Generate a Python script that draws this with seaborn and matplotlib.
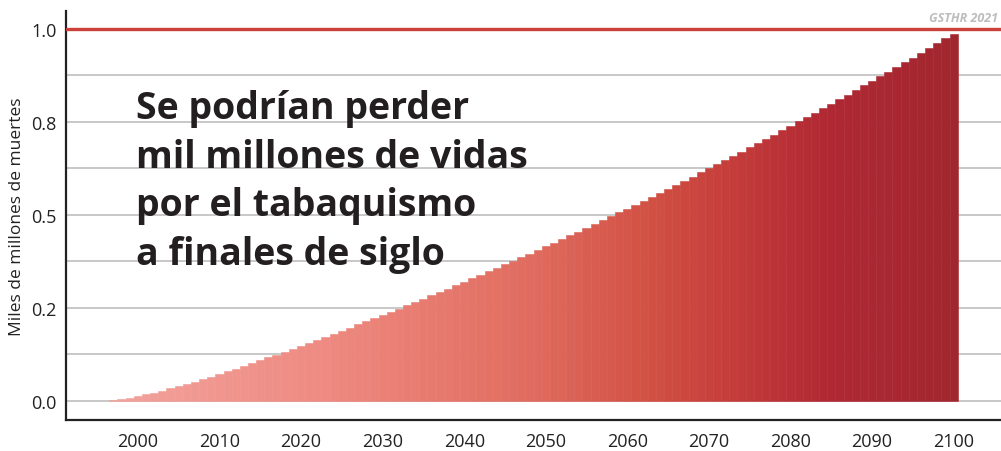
import numpy as np
import pandas as pd
import matplotlib
matplotlib.use("Agg")
import matplotlib.pyplot as plt
import seaborn as sns
from matplotlib.colors import LinearSegmentedColormap
from matplotlib.ticker import FixedLocator

years = list(range(1997, 2101))
deaths = [
    0.003, 0.006, 0.009, 0.013, 0.019, 0.021, 0.027, 0.036, 0.040, 0.046,
    0.051, 0.059, 0.064, 0.072, 0.081, 0.086, 0.094, 0.102, 0.110, 0.118,
    0.124, 0.132, 0.140, 0.148, 0.156, 0.164, 0.172, 0.180, 0.188, 0.196,
    0.207, 0.215, 0.223, 0.231, 0.239, 0.247, 0.258, 0.266, 0.274, 0.285,
    0.293, 0.301, 0.312, 0.320, 0.331, 0.339, 0.349, 0.358, 0.368, 0.376,
    0.387, 0.395, 0.406, 0.417, 0.425, 0.435, 0.446, 0.454, 0.465, 0.476,
    0.487, 0.497, 0.508, 0.516, 0.527, 0.538, 0.548, 0.559, 0.570, 0.581,
    0.591, 0.602, 0.616, 0.626, 0.637, 0.648, 0.659, 0.669, 0.683, 0.694,
    0.704, 0.715, 0.728, 0.739, 0.753, 0.763, 0.774, 0.788, 0.798, 0.812,
    0.823, 0.836, 0.849, 0.860, 0.874, 0.884, 0.898, 0.911, 0.922, 0.935,
    0.949, 0.962, 0.976, 0.987,
]
y_ticks = [0.0, 0.25, 0.5, 0.75, 1.0]
y_tick_labels = ["0.0", "0.2", "0.5", "0.8", "1.0"]
x_ticks = list(range(2000, 2101, 10))
title_text = "Se podrían perder\nmil millones de vidas\npor el tabaquismo\na finales de siglo"
y_label = "Miles de millones de muertes"
source_text = "GSTHR 2021"

df = pd.DataFrame({"year": years, "deaths": deaths})

sns.set_theme(style="white")
plt.rcParams["font.family"] = ["Open Sans", "DejaVu Sans"]

cmap = LinearSegmentedColormap.from_list(
    "smoke",
    [(0.0, "#f2a29c"), (0.25, "#ee8a81"), (0.5, "#e06b5e"), (0.65, "#d04e42"),
     (0.75, "#c23a39"), (0.85, "#b02833"), (1.0, "#a1272f")],
)
norm_vals = [(y - years[0]) / (years[-1] - years[0]) for y in years]
palette = {y: cmap(v) for y, v in zip(years, norm_vals)}

fig = plt.figure(figsize=(10.01, 4.52), dpi=100)
ax = fig.add_axes([0.066, 0.0686, 0.934, 0.9049])

sns.barplot(data=df, x="year", y="deaths", hue="year", palette=palette,
            native_scale=True, width=1.0, legend=False, ax=ax, linewidth=0,
            saturation=1)
for p in ax.patches:
    p.set_edgecolor(p.get_facecolor())
    p.set_linewidth(0.4)
    p.set_zorder(2)

ax.set_xlim(1991.2, 2105.8)
ax.set_ylim(-0.051, 1.048)

for g in np.arange(0, 1.0, 0.125):
    ax.axhline(g, color="#c8c8c8", lw=1.4, zorder=1)
ax.axhline(1.0, color="#cc403a", lw=2.4, zorder=3)

ax.yaxis.set_major_locator(FixedLocator(y_ticks))
ax.set_yticklabels(y_tick_labels)
ax.xaxis.set_major_locator(FixedLocator(x_ticks))
ax.set_xticklabels([str(x) for x in x_ticks])
ax.tick_params(axis="both", which="major", length=5, width=1.2, color="#222222",
               labelsize=13, labelcolor="#222222", direction="out")
ax.tick_params(axis="y", pad=2)
ax.tick_params(axis="x", pad=4)
ax.set_xlabel("")
ax.set_ylabel(y_label, fontsize=12.5, color="#222222", labelpad=4)

for s in ["top", "right"]:
    ax.spines[s].set_visible(False)
for s in ["left", "bottom"]:
    ax.spines[s].set_color("#222222")
    ax.spines[s].set_linewidth(1.6)

fig.text(136 / 1001, 1 - 90 / 452, title_text, fontsize=27, fontweight="bold",
         color="#231f20", ha="left", va="top", linespacing=1.37)
fig.text(998 / 1001, 1 - 18 / 452, source_text, fontsize=9, fontweight="bold",
         fontstyle="italic", color="#bdbdbd", ha="right", va="center")

fig.savefig("out.png", dpi=100)
